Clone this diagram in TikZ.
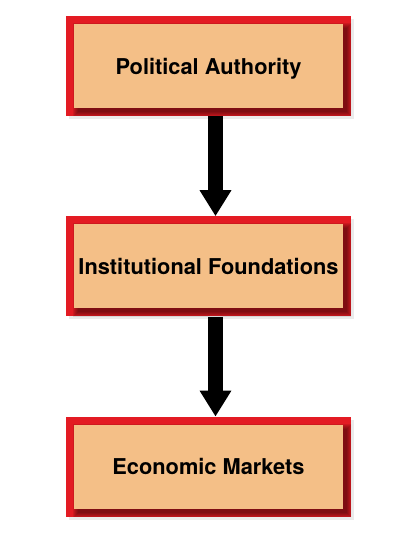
\documentclass[tikz,border=0pt]{standalone}
\usepackage{fontspec}
\setmainfont{TeX Gyre Heros}
\usetikzlibrary{positioning,arrows.meta,shadows}
\definecolor{boxred}{HTML}{E31B23}
\definecolor{peach}{HTML}{F4BF87}

\begin{document}
\begin{tikzpicture}[
  node distance=100pt,
  box/.style={fill=boxred, minimum width=285pt, minimum height=100pt, inner sep=0pt,
              font=\fontsize{21.8}{26}\selectfont\bfseries, text depth=0pt, yshift=0pt,
              drop shadow={shadow xshift=3pt, shadow yshift=-3pt, fill=black, opacity=.08},
              path picture={
                \foreach \k in {0,1,...,5}
                  \fill[black, opacity=.09]
                    ([shift={({(12-\k)*1pt},{(4-\k)*1pt})}]path picture bounding box.south west)
                    rectangle ([shift={({(\k-4)*1pt},{(\k-12)*1pt})}]path picture bounding box.north east);
                \fill[peach] ([shift={(8pt,8pt)}]path picture bounding box.south west)
                  rectangle ([shift={(-8pt,-8pt)}]path picture bounding box.north east);
              }},
  arr/.style={line width=15pt, -{Triangle[length=26pt, width=30pt]}}]
  \useasboundingbox (0,0) rectangle (417pt,-537pt);
  \node[box] (pol) at (208.5pt,-66pt) {Political Authority};
  \node[box, below=of pol] (inst) {Institutional Foundations};
  \node[box, below=of inst] (econ) {Economic Markets};
  \draw[arr] ([xshift=7pt]pol.south) -- ([xshift=7pt]inst.north);
  \draw[arr] ([xshift=7pt]inst.south) -- ([xshift=7pt]econ.north);
\end{tikzpicture}
\end{document}
